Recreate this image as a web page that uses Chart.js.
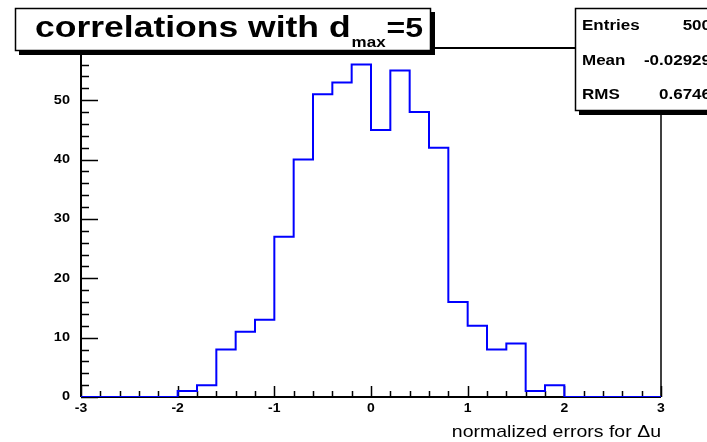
<!DOCTYPE html>
<html>
<head>
<meta charset="utf-8">
<script src="https://cdn.jsdelivr.net/npm/chart.js@4.4.0/dist/chart.umd.min.js"></script>
<style>
  body { margin: 0; background: #fff; }
  #wrap { position: relative; width: 707px; height: 442px; }
</style>
</head>
<body>
<div id="wrap"><canvas id="histo" width="707" height="442"></canvas></div>
<script>
// histogram binning: 30 bins from -3 to 3
const xMin = -3;
const xMax = 3;
const binWidth = 0.2;
const binCounts = [0, 0, 0, 0, 0, 1, 2, 8, 11, 13, 27, 40, 51, 53, 56,
                   45, 55, 48, 42, 16, 12, 8, 9, 1, 2, 0, 0, 0, 0, 0];
const yMax = 58.8;

// axis labels and ticks
const xTickValues = [-3, -2, -1, 0, 1, 2, 3];
const xTickLabels = ['-3', '-2', '-1', '0', '1', '2', '3'];
const yTickValues = [0, 10, 20, 30, 40, 50];
const yTickLabels = ['0', '10', '20', '30', '40', '50'];
const xMinorStep = 0.2;
const yMinorStep = 2;

const xTitle = 'normalized errors for \u0394u';
const statNames = ['Entries', 'Mean', 'RMS'];
const statValues = ['500', '-0.02929', '0.6746'];

const FONT = '"Liberation Sans", Arial, Helvetica, sans-serif';
const SQUISH = 0.85;

function squishText(ctx, str, x, y, size, weight, align, baseline) {
    ctx.save();
    ctx.translate(x, y);
    ctx.scale(1, SQUISH);
    ctx.font = weight + ' ' + size + 'px ' + FONT;
    ctx.textAlign = align || 'left';
    ctx.textBaseline = baseline || 'alphabetic';
    ctx.fillStyle = '#000';
    ctx.fillText(str, 0, 0);
    ctx.restore();
}

function textWidth(ctx, str, size, weight) {
    ctx.font = weight + ' ' + size + 'px ' + FONT;
    return ctx.measureText(str).width;
}

// box with a solid drop shadow, root style
function shadowBox(ctx, x, y, w, h, sh) {
    ctx.fillStyle = '#000';
    ctx.fillRect(x + sh, y + sh, w, h);
    ctx.fillStyle = '#fff';
    ctx.fillRect(x, y, w, h);
    ctx.strokeStyle = '#000';
    ctx.lineWidth = 1.5;
    ctx.strokeRect(x + 0.5, y + 0.5, w - 1, h - 1);
}

// step outline points at the bin edges
const histPoints = binCounts.map((c, i) => ({ x: xMin + i * binWidth, y: c }));
histPoints.push({ x: xMax, y: binCounts[binCounts.length - 1] });

const frameAndTicks = {
    id: 'frameAndTicks',
    beforeDatasetsDraw(chart) {
        const ctx = chart.ctx;
        const a = chart.chartArea;
        const xs = chart.scales.x;
        const ys = chart.scales.y;
        ctx.save();
        ctx.strokeStyle = '#000';

        // frame
        ctx.lineWidth = 1.5;
        ctx.beginPath();
        ctx.moveTo(a.right, a.top);
        ctx.lineTo(a.right, a.bottom);
        ctx.stroke();
        ctx.lineWidth = 2;
        ctx.beginPath();
        ctx.moveTo(a.left, a.bottom);
        ctx.lineTo(a.left, a.top);
        ctx.lineTo(a.right, a.top);
        ctx.moveTo(a.left, a.bottom);
        ctx.lineTo(a.right, a.bottom);
        ctx.stroke();

        // y ticks, pointing into the frame
        ctx.lineWidth = 1.5;
        ctx.beginPath();
        for (let v = 0; v <= yMax + 1e-6; v += yMinorStep) {
            const py = Math.round(ys.getPixelForValue(v)) + 0.5;
            const len = yTickValues.includes(Math.round(v)) ? 17 : 8;
            ctx.moveTo(a.left, py);
            ctx.lineTo(a.left + len, py);
        }
        // x ticks
        const nMinor = Math.round((xMax - xMin) / xMinorStep);
        for (let i = 0; i <= nMinor; i++) {
            const v = xMin + i * xMinorStep;
            const px = Math.round(xs.getPixelForValue(v)) + 0.5;
            const major = Math.abs(v - Math.round(v)) < 1e-6;
            ctx.moveTo(px, a.bottom);
            ctx.lineTo(px, a.bottom - (major ? 11 : 6));
        }
        ctx.stroke();
        ctx.restore();
    },
    afterDraw(chart) {
        const ctx = chart.ctx;
        const a = chart.chartArea;
        const xs = chart.scales.x;
        const ys = chart.scales.y;
        ctx.save();

        // tick labels
        yTickValues.forEach((v, i) => {
            squishText(ctx, yTickLabels[i], a.left - 11, ys.getPixelForValue(v), 14.5, 'bold', 'right', 'middle');
        });
        xTickValues.forEach((v, i) => {
            squishText(ctx, xTickLabels[i], xs.getPixelForValue(v), a.bottom + 15, 14, 'bold', 'center');
        });

        // axis title, right aligned to the frame
        squishText(ctx, xTitle, a.right, 437, 19.5, 'normal', 'right');

        // title pave
        shadowBox(ctx, 15, 8, 416, 43, 4);
        const mainSize = 35.5;
        const subSize = 17;
        let tx = 35;
        squishText(ctx, 'correlations with d', tx, 37, mainSize, 'bold');
        tx += textWidth(ctx, 'correlations with d', mainSize, 'bold');
        squishText(ctx, 'max', tx + 1, 47, subSize, 'bold');
        tx += textWidth(ctx, 'max', subSize, 'bold') + 2;
        squishText(ctx, '=5', tx, 37, 32, 'bold');

        // stats box, runs past the right edge
        shadowBox(ctx, 575, 8, 160, 103, 4);
        const rows = [30, 65, 99];
        statNames.forEach((name, i) => {
            squishText(ctx, name, 582, rows[i], 17, 'bold');
            squishText(ctx, statValues[i], 711, rows[i], 17, 'bold', 'right');
        });
        ctx.restore();
    }
};

const ctx = document.getElementById('histo').getContext('2d');
new Chart(ctx, {
    type: 'line',
    data: {
        datasets: [{
            data: histPoints,
            stepped: 'before',
            borderColor: '#0000ff',
            borderWidth: 2,
            pointRadius: 0,
            fill: false
        }]
    },
    options: {
        responsive: false,
        animation: false,
        layout: { padding: { left: 0, right: 46, top: 48, bottom: 0 } },
        plugins: {
            legend: { display: false },
            tooltip: { enabled: false }
        },
        scales: {
            x: {
                type: 'linear',
                min: xMin,
                max: xMax,
                grid: { display: false },
                border: { display: false },
                ticks: { display: false },
                afterFit(scale) { scale.height = 45; }
            },
            y: {
                min: 0,
                max: yMax,
                grid: { display: false },
                border: { display: false },
                ticks: { display: false },
                afterFit(scale) { scale.width = 81; }
            }
        }
    },
    plugins: [frameAndTicks]
});
</script>
</body>
</html>
